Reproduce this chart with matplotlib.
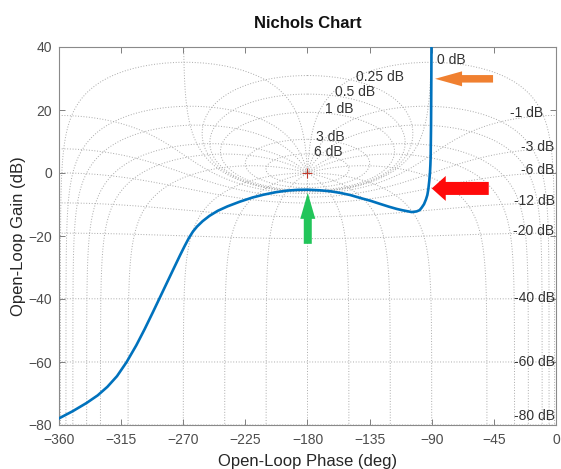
import numpy as np
import matplotlib
matplotlib.use("Agg")
import matplotlib.pyplot as plt
from matplotlib.patches import Polygon
from matplotlib.transforms import IdentityTransform

plt.rcParams["font.family"] = ["Liberation Sans", "DejaVu Sans"]

# open-loop frequency response (phase in deg, gain in dB)
phase_deg = [-360, -350.0, -340.0, -332.0, -325.0, -318.0, -311.0, -304.0, -298.0,
             -292.0, -287.0, -282.0, -277.0, -272.3, -269.0, -266.0, -263.0, -260.0,
             -256.0, -251.0, -245.0, -238.0, -229.0, -220.0, -212.0, -203.0, -195.0,
             -187.0, -180.0, -171.0, -163.5, -156.5, -149.0, -142.0, -134.5, -127.5,
             -121.0, -115.4, -111.5, -108.1, -104.5, -101.0, -98.8, -97.3, -95.6,
             -94.2, -93.2, -92.5, -91.8, -91.3, -91.0, -90.8, -90.5, -90.3, -90.2]
gain_db = [-77.9, -75.6, -73.0, -70.6, -67.9, -64.5, -60.0, -54.7, -49.6,
           -44.2, -39.6, -35.0, -30.4, -26.1, -23.2, -20.7, -18.6, -17.0,
           -15.3, -13.6, -12.0, -10.6, -9.1, -7.8, -6.9, -6.1, -5.6,
           -5.35, -5.3, -5.5, -5.8, -6.3, -7.0, -7.9, -8.8, -9.8,
           -10.7, -11.4, -11.8, -12.1, -12.4, -12.2, -11.8, -11.0, -9.9,
           -8.4, -7.0, -5.2, -2.5, 0.0, 2.5, 5.0, 15.0, 30.0, 40.0]

# Nichols grid: closed-loop gain (dB) and closed-loop phase (deg) contours
m_levels_db = [6, 3, 1, 0.5, 0.25, 0, -1, -3, -6, -12, -20, -40, -60, -80]
n_levels_deg = [-1, -5, -10, -20, -30, -50, -90, -120, -150, -180,
                -210, -240, -270, -310, -330, -340, -350, -355, -359]

# contour labels
pos_labels = ["0 dB", "0.25 dB", "0.5 dB", "1 dB", "3 dB", "6 dB"]
pos_label_phase = [-86.4, -144.9, -160.1, -167.3, -173.8, -175.3]
pos_label_gain = [36.0, 30.4, 25.8, 20.2, 11.5, 6.6]
neg_labels = ["-1 dB", "-3 dB", "-6 dB", "-12 dB", "-20 dB", "-40 dB", "-60 dB", "-80 dB"]
neg_label_phase = [-9.4, -1, -1, -1, -1, -1, -1, -1]
neg_label_gain = [19.1, 8.3, 0.8, -8.9, -18.5, -39.6, -59.9, -77.0]

# callout arrows: tip (phase, gain), direction, length, head length, head width, tail width (px)
arrows = [
    ((-87.6, 29.9), (-1, 0), 58, 27, 15, 7.5, "#F08030"),
    ((-90.0, -4.9), (-1, 0), 57, 14, 25, 13, "#FF0a0a"),
    ((-179.8, -6.3), (0, 1), 51, 26, 15, 8, "#22C55A"),
]

GRID_KW = dict(color="#a9a9a9", lw=0.7, dashes=(1, 1.8), zorder=1)


def m_contour(mdb, n=4000):
    m = 10 ** (mdb / 20)
    th = np.linspace(-2 * np.pi, 0, n)
    if mdb == 0:
        th = th[1:-1]
    t = m * np.exp(1j * th)
    ph = np.rad2deg(th - np.unwrap(np.angle(1 - t)))
    ph -= 360 * np.round((ph.mean() + 180) / 360)
    return ph, 20 * np.log10(np.abs(t / (1 - t)))


def n_contour(phi, n=8000):
    m = np.logspace(-5, 5, n)
    t = m * np.exp(1j * np.deg2rad(phi))
    ph = phi - np.rad2deg(np.angle(1 - t))
    return ph, 20 * np.log10(np.abs(t / (1 - t)))


def block_arrow(ax, tip, direction, length, head_len, head_w, tail_w, color):
    x0, y0 = ax.transData.transform(tip)
    ux, uy = direction
    px, py = -uy, ux
    local = [(0, 0), (-head_len, head_w / 2), (-head_len, tail_w / 2), (-length, tail_w / 2),
             (-length, -tail_w / 2), (-head_len, -tail_w / 2), (-head_len, -head_w / 2)]
    pts = [(x0 + a * ux + b * px, y0 + a * uy + b * py) for a, b in local]
    ax.add_patch(Polygon(pts, closed=True, facecolor=color, edgecolor="none",
                         transform=IdentityTransform(), zorder=5))


fig = plt.figure(figsize=(5.61, 4.69), dpi=100)
ax = fig.add_axes([59 / 561, 44 / 469, 497 / 561, 378 / 469])

for mdb in m_levels_db:
    ph, g = m_contour(mdb)
    ax.plot(ph, g, **GRID_KW)
for phi in n_levels_deg:
    ph, g = n_contour(phi)
    ax.plot(ph, g, **GRID_KW)

for txt, p, g in zip(pos_labels, pos_label_phase, pos_label_gain):
    ax.text(p, g, txt, ha="left", va="center", fontsize=10, color="#333333", zorder=3)
for txt, p, g in zip(neg_labels, neg_label_phase, neg_label_gain):
    ax.text(p, g, txt, ha="right", va="center", fontsize=10, color="#333333", zorder=3)

ax.plot(phase_deg, gain_db, color="#0072BD", lw=1.9, zorder=4, solid_joinstyle="round")
ax.plot([-180], [0], "+", color="#c0392b", ms=7, mew=0.8, zorder=4)

ax.set_xlim(-360, 0)
ax.set_ylim(-80, 40)
ax.set_xticks(np.arange(-360, 1, 45))
ax.set_yticks(np.arange(-80, 41, 20))
ax.tick_params(direction="in", length=4, width=0.7, top=True, right=True,
               labelsize=10, labelcolor="#4d4d4d", color="#7f7f7f", pad=5)
ax.tick_params(axis="x", pad=6)
for sp in ax.spines.values():
    sp.set_color("#8a8a8a")
    sp.set_linewidth(0.8)

ax.set_title("Nichols Chart", fontsize=12, fontweight="bold", color="#111111", pad=14)
ax.set_xlabel("Open-Loop Phase (deg)", fontsize=12, color="#262626", labelpad=5)
ax.set_ylabel("Open-Loop Gain (dB)", fontsize=12, color="#262626", labelpad=2)

for tip, d, length, hl, hw, tw, col in arrows:
    block_arrow(ax, tip, d, length, hl, hw, tw, col)

fig.savefig("out.png", dpi=100)
